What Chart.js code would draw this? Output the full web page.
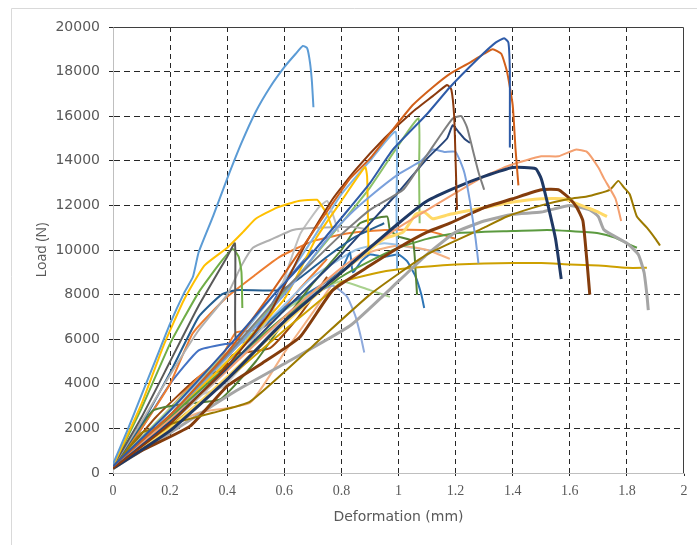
<!DOCTYPE html>
<html>
<head>
<meta charset="utf-8">
<script src="https://cdn.jsdelivr.net/npm/chart.js@4"></script>
<style>
  html, body { margin: 0; padding: 0; background: #fff; }
  canvas { display: block; }
</style>
</head>
<body>
<canvas id="grafico" width="697" height="545"></canvas>
<script>
// Load-deformation curves, [deformation mm, load N]
const spec01 = [[0,400],[0.05,1900],[0.1,3500],[0.15,5100],[0.2,6700],[0.25,8100],[0.28,8800],[0.3,9900],[0.35,11500],[0.4,13200],[0.45,14800],[0.5,16200],[0.55,17300],[0.6,18200],[0.64,18800],[0.665,19150],[0.68,19050],[0.69,18400],[0.697,17500],[0.702,16400]];
const spec02 = [[0,300],[0.2,2800],[0.4,5600],[0.55,7800],[0.7,9900],[0.83,11900],[0.9,13000],[0.98,14500],[1.1,16100],[1.18,17300],[1.28,18600],[1.34,19300],[1.37,19500],[1.385,19300],[1.39,18000],[1.39,16000],[1.39,14600]];
const spec03 = [[0,300],[0.2,2600],[0.4,5400],[0.55,8000],[0.7,10800],[0.83,13200],[0.9,14100],[0.98,15400],[1.05,16500],[1.12,17300],[1.18,17900],[1.25,18400],[1.3,18800],[1.33,19000],[1.36,18800],[1.38,18000],[1.4,16500],[1.41,14500],[1.42,12900]];
const spec04 = [[0,200],[0.2,2200],[0.4,4800],[0.55,7200],[0.68,10400],[0.77,12300],[0.85,13600],[0.95,15000],[1.05,16200],[1.12,16900],[1.17,17400],[1.185,17200],[1.195,16000],[1.2,14000],[1.205,11800]];
const spec05 = [[0,300],[0.2,2600],[0.4,5300],[0.6,8200],[0.8,10700],[0.9,11800],[1.016,12700],[1.086,14000],[1.15,15200],[1.19,15900],[1.22,16000],[1.24,15500],[1.26,14500],[1.28,13500],[1.3,12700]];
const spec06 = [[0,200],[0.2,2300],[0.4,4700],[0.6,7300],[0.8,9800],[0.9,11200],[1.0,12600],[1.1,14100],[1.17,15000],[1.19,15600],[1.21,15300],[1.23,15000],[1.25,14800]];
const spec07 = [[0,300],[0.2,2600],[0.4,5200],[0.6,8000],[0.75,10500],[0.83,11600],[0.9,12400],[1.0,13400],[1.08,14000],[1.12,14500],[1.16,14400],[1.2,14400],[1.23,13500],[1.25,12200],[1.27,10500],[1.28,9400]];
const spec08 = [[0,200],[0.2,1900],[0.4,4200],[0.6,6800],[0.8,9000],[1.0,11200],[1.1,12200],[1.2,12800],[1.3,13300],[1.4,13700],[1.48,13650],[1.5,13200],[1.52,12200],[1.55,10500],[1.57,8700]];
const spec09 = [[0,300],[0.2,2400],[0.4,4600],[0.6,7000],[0.8,9200],[1.0,11000],[1.18,12400],[1.3,13300],[1.39,13800],[1.5,14200],[1.56,14200],[1.62,14500],[1.66,14400],[1.7,13700],[1.72,13200],[1.76,12300],[1.78,11300]];
const spec10 = [[0,200],[0.1,1800],[0.2,2200],[0.35,2700],[0.48,3200],[0.7,5700],[0.9,8000],[1.1,9800],[1.3,11000],[1.38,11500],[1.5,12000],[1.6,12300],[1.66,12400],[1.74,12700],[1.77,13100],[1.79,12800],[1.81,12500],[1.835,11500],[1.87,11000],[1.9,10500],[1.916,10200]];
const spec11 = [[0,250],[0.1,1000],[0.27,2100],[0.4,3900],[0.52,4900],[0.655,6100],[0.77,8200],[0.9,9300],[1.0,10100],[1.1,10800],[1.18,11200],[1.3,11900],[1.4,12300],[1.5,12700],[1.56,12700],[1.6,12300],[1.625,11900],[1.646,11300],[1.66,9500],[1.67,8000]];
const spec12 = [[0,200],[0.2,2000],[0.4,4300],[0.6,6700],[0.8,9000],[0.95,10500],[1.016,10800],[1.06,11600],[1.09,11700],[1.12,11400],[1.18,11600],[1.3,11900],[1.4,12150],[1.5,12300],[1.58,12300],[1.62,12100],[1.66,11900],[1.7,11700],[1.73,11500]];
const spec13 = [[0,200],[0.2,1800],[0.42,3600],[0.6,4900],[0.83,6600],[1.0,8600],[1.1,9800],[1.2,10800],[1.3,11300],[1.4,11600],[1.5,11700],[1.6,12000],[1.67,11800],[1.7,11500],[1.72,10900],[1.8,10300],[1.84,9800],[1.86,9000],[1.87,8000],[1.875,7300]];
const spec14 = [[0,300],[0.2,2500],[0.4,4800],[0.6,7000],[0.8,8800],[0.9,9500],[1.0,10100],[1.1,10500],[1.2,10750],[1.4,10850],[1.52,10900],[1.6,10850],[1.7,10750],[1.76,10550],[1.8,10300],[1.835,10100]];
const spec15 = [[0,200],[0.2,2100],[0.4,4200],[0.6,6400],[0.75,8000],[0.8,8560],[0.935,9000],[1.05,9200],[1.2,9350],[1.3,9400],[1.5,9420],[1.6,9350],[1.7,9300],[1.8,9200],[1.87,9200]];
const spec16 = [[0,300],[0.1,3100],[0.175,5650],[0.25,7800],[0.32,9300],[0.4,10100],[0.455,10800],[0.5,11400],[0.574,11900],[0.65,12200],[0.715,12250],[0.73,12000],[0.75,11600],[0.77,10900]];
const spec17 = [[0,300],[0.2,2500],[0.4,5000],[0.6,7800],[0.714,10580],[0.8,12200],[0.883,13720],[0.89,13300],[0.893,11500],[0.895,9800]];
const spec18 = [[0,300],[0.1,2500],[0.2,5000],[0.3,7500],[0.4,9700],[0.427,10300],[0.428,8000],[0.43,6000],[0.46,6000]];
const spec19 = [[0,300],[0.1,2900],[0.2,5800],[0.3,8100],[0.38,9500],[0.42,10050],[0.44,9700],[0.45,9000],[0.453,7400]];
const spec20 = [[0,300],[0.1,2300],[0.2,4400],[0.3,6400],[0.4,8000],[0.45,9300],[0.49,10100],[0.55,10450],[0.63,10900],[0.714,11000],[0.84,11030],[0.9,10900]];
const spec21 = [[0,200],[0.2,2200],[0.4,4600],[0.55,7000],[0.655,10700],[0.72,11900],[0.75,12200],[0.77,11600],[0.79,10800]];
const spec22 = [[0,300],[0.1,2200],[0.2,4500],[0.3,7000],[0.38,8000],[0.43,8200],[0.585,8200],[0.65,8700],[0.75,9700],[0.85,10600],[0.95,11200]];
const spec23 = [[0,300],[0.2,2600],[0.4,5400],[0.6,8600],[0.7,10500],[0.8,12500],[0.9,14000],[0.99,15300],[0.993,12000],[0.995,9100]];
const spec24 = [[0,300],[0.2,2600],[0.4,5200],[0.6,8100],[0.8,11200],[0.9,12800],[1.0,14700],[1.07,15900],[1.072,13500],[1.074,11200]];
const spec25 = [[0,250],[0.14,2800],[0.25,3100],[0.375,3300],[0.5,5000],[0.6,6800],[0.7,8500],[0.8,10000],[0.865,11200],[0.96,11500],[0.97,10900],[1.0,10600],[1.05,10400],[1.06,9000],[1.065,7980]];
const spec26 = [[0,300],[0.2,2500],[0.4,5000],[0.6,7400],[0.75,8600],[0.8,9100],[0.83,9900],[0.84,9000],[0.87,9500],[0.9,9800],[0.95,9700],[1.0,9800],[1.03,9500],[1.06,8800],[1.08,8000],[1.09,7400]];
const spec27 = [[0,200],[0.2,2400],[0.4,4700],[0.6,7000],[0.7,8000],[0.77,8400],[0.82,7900],[0.85,7000],[0.87,6000],[0.88,5400]];
const spec28 = [[0,300],[0.2,2900],[0.4,5400],[0.6,7300],[0.7,8100],[0.8,8600],[0.9,8200],[0.97,7900]];
const spec29 = [[0,300],[0.1,2000],[0.2,4000],[0.28,6280],[0.4,7900],[0.5,8900],[0.585,9700],[0.7,10400],[0.83,10760],[0.95,10900],[1.09,10900],[1.15,10700],[1.2,10500]];
const spec30 = [[0,250],[0.15,1800],[0.3,2700],[0.48,3150],[0.6,5400],[0.7,7200],[0.8,9000],[0.9,9900],[1.0,10200],[1.1,10000],[1.18,9600]];
const spec31 = [[0,200],[0.2,2800],[0.4,5300],[0.55,6900],[0.7,8800],[0.85,10000],[0.95,10300],[1.05,10100],[1.15,9900]];
const spec32 = [[0,200],[0.1,1500],[0.2,2800],[0.28,3400],[0.385,3860],[0.5,5500],[0.6,7000],[0.7,8200]];
const spec33 = [[0,300],[0.1,2000],[0.2,4000],[0.3,5500],[0.4,5800],[0.47,5900],[0.53,7000],[0.6,8500],[0.7,10000]];
const spec34 = [[0,200],[0.15,2200],[0.3,4300],[0.38,5200],[0.43,6300],[0.5,6400],[0.56,6800],[0.65,8200],[0.75,9600]];
const spec35 = [[0,200],[0.15,2500],[0.3,4300],[0.38,4600],[0.42,5300],[0.55,5600],[0.65,7000],[0.75,8800]];

const specimens = [spec01, spec02, spec03, spec04, spec05, spec06, spec07, spec08, spec09, spec10,
  spec11, spec12, spec13, spec14, spec15, spec16, spec17, spec18, spec19, spec20,
  spec21, spec22, spec23, spec24, spec25, spec26, spec27, spec28, spec29, spec30,
  spec31, spec32, spec33, spec34, spec35];

const colors = ['#5B9BD5', '#2E5BA8', '#D2601A', '#8B3A0E', '#7F7F7F', '#264478', '#7AA0DC', '#1F3864', '#F4A070', '#9C7A00',
  '#843C0C', '#FFD966', '#A5A5A5', '#5B9A3F', '#CDA000', '#FFC000', '#FFC000', '#595959', '#70AD47', '#B0B0B0',
  '#BFBFBF', '#255E91', '#7FB3E3', '#8CC168', '#548235', '#2E75B6', '#8FAADC', '#A9D18E', '#ED7D31', '#F4B183',
  '#9DC3E6', '#C9C9C9', '#4472C4', '#ED7D31', '#9E480E'];

const thick = [8, 11, 12, 13]; // zigzag curves, drawn wider

const xTickLabels = ['0', '0.2', '0.4', '0.6', '0.8', '1', '1.2', '1.4', '1.6', '1.8', '2'];
const yTickLabels = ['0', '2000', '4000', '6000', '8000', '10000', '12000', '14000', '16000', '18000', '20000'];

const gridColor = '#262626';
const labelColor = '#595959';

// moldura externa e bordas superior/direita
const molduraPlugin = {
  id: 'moldura',
  beforeDraw(chart) {
    const c = chart.ctx;
    c.save();
    c.fillStyle = '#fff';
    c.fillRect(0, 0, chart.width, chart.height);
    c.strokeStyle = '#D9D9D9';
    c.lineWidth = 1;
    c.beginPath();
    c.moveTo(11.5, chart.height);
    c.lineTo(11.5, 8.5);
    c.lineTo(chart.width, 8.5);
    c.stroke();
    c.restore();
  },
  beforeDatasetsDraw(chart) {
    const a = chart.chartArea;
    const c = chart.ctx;
    c.save();
    c.strokeStyle = '#3F3F3F';
    c.lineWidth = 1;
    c.beginPath();
    c.moveTo(Math.round(a.left) + 0.5, Math.round(a.top) + 0.5);
    c.lineTo(Math.round(a.right) - 0.5, Math.round(a.top) + 0.5);
    c.lineTo(Math.round(a.right) - 0.5, Math.round(a.bottom));
    c.stroke();
    c.restore();
  }
};

const ctx = document.getElementById('grafico').getContext('2d');

new Chart(ctx, {
  type: 'scatter',
  data: {
    datasets: specimens.map((pts, i) => ({
      label: 'CP' + (i + 1),
      data: pts.map(p => ({ x: p[0], y: p[1] })),
      showLine: true,
      borderColor: colors[i],
      borderWidth: thick.includes(i + 1) ? 3 : 2,
      pointRadius: 0,
      tension: 0.15,
      fill: false
    }))
  },
  options: {
    responsive: false,
    animation: false,
    layout: { padding: { left: 12, right: 13, top: 27, bottom: 0 } },
    plugins: {
      legend: { display: false },
      tooltip: { enabled: false }
    },
    scales: {
      x: {
        type: 'linear',
        min: 0,
        max: 2,
        afterFit: s => { s.height = 72; },
        afterBuildTicks: s => { s.ticks = xTickLabels.map((t, i) => ({ value: i * 0.2 })); },
        ticks: {
          callback: (v, i) => xTickLabels[i],
          color: labelColor,
          font: { family: 'Liberation Serif', size: 14 },
          padding: 5,
          maxRotation: 0
        },
        grid: {
          color: c => (c.index === 0 || c.index === 10) ? 'rgba(0,0,0,0)' : gridColor,
          tickColor: gridColor,
          tickLength: 5,
          tickBorderDash: [2, 2]
        },
        border: { color: '#BFBFBF', dash: [5, 4] },
        title: {
          display: true,
          text: 'Deformation (mm)',
          color: labelColor,
          font: { family: 'DejaVu Sans', size: 14 },
          padding: { top: 0, bottom: 19 }
        }
      },
      y: {
        min: 0,
        max: 20000,
        afterFit: s => { s.width = 101; },
        afterBuildTicks: s => { s.ticks = yTickLabels.map(t => ({ value: Number(t) })); },
        ticks: {
          callback: (v, i) => yTickLabels[i],
          color: labelColor,
          font: { family: 'DejaVu Sans', size: 14 },
          padding: 9
        },
        grid: {
          color: c => (c.index === 0 || c.index === 10) ? 'rgba(0,0,0,0)' : gridColor,
          tickColor: gridColor,
          tickLength: 4
        },
        border: { color: '#BFBFBF', dash: [6, 4] },
        title: {
          display: true,
          text: 'Load (N)',
          color: labelColor,
          font: { family: 'Open Sans', size: 14 },
          padding: { top: 22, bottom: 0 }
        }
      }
    }
  },
  plugins: [molduraPlugin]
});
</script>
</body>
</html>
